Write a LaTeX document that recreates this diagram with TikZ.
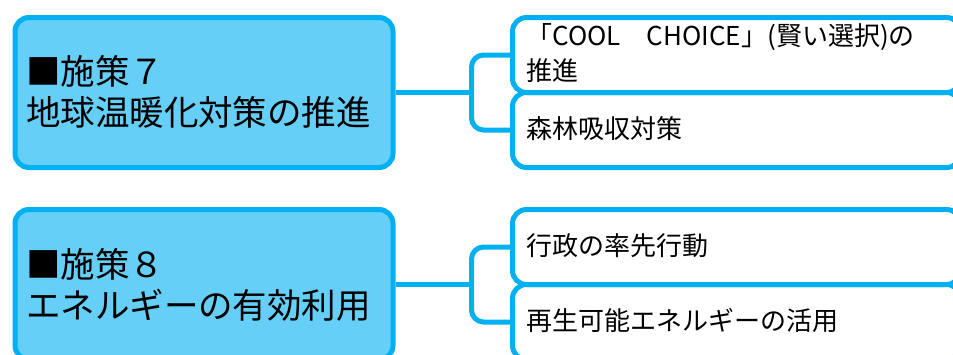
\documentclass[tikz,border=0pt]{standalone}
\usepackage{fontspec}
\newfontfamily\jp{Noto Sans CJK JP}
\definecolor{cyanB}{HTML}{00B0F0}
\definecolor{fillB}{HTML}{66CFF7}
\tikzset{
  mainbox/.style={draw=cyanB, fill=fillB, line width=5pt, rounded corners=14pt,
    minimum height=150pt, inner xsep=11pt, text width=356pt, align=left,
    anchor=north west, font=\jp\fontsize{34.5}{41}\selectfont},
  childbox/.style={draw=cyanB, line width=5pt, rounded corners=14pt,
    minimum height=75pt, inner xsep=14pt, text width=420pt, align=left,
    anchor=north west, font=\jp\fontsize{26}{35}\selectfont},
  conn/.style={draw=cyanB, line width=5pt, rounded corners=12pt}
}
\begin{document}
\begin{tikzpicture}[x=1pt,y=-1pt]
\clip (0,0) rectangle (953,354);
\node[mainbox] (m1) at (12.5,15) {■施策７\\地球温暖化対策の推進\\[-36pt]\mbox{}};
\node[mainbox] (m2) at (12.5,207) {■施策８\\エネルギーの有効利用\\[-38pt]\mbox{}};
\node[childbox] (c1) at (510,15) {「COOL　CHOICE」(賢い選択)の\\推進\\[-28pt]\mbox{}};
\node[childbox] (c2) at (510,90) {森林吸収対策\\[-30pt]\mbox{}};
\node[childbox] (c3) at (510,207) {行政の率先行動\\[-30pt]\mbox{}};
\node[childbox] (c4) at (510,282) {再生可能エネルギーの活用\\[-30pt]\mbox{}};
\coordinate (j1) at ([xshift=76pt]m1.east);
\coordinate (j2) at ([xshift=76pt]m2.east);
\draw[conn] (m1.east) -- (j1);
\draw[conn] (c1.west) -| (j1) |- (c2.west);
\draw[conn] (m2.east) -- (j2);
\draw[conn] (c3.west) -| (j2) |- (c4.west);
\end{tikzpicture}
\end{document}
